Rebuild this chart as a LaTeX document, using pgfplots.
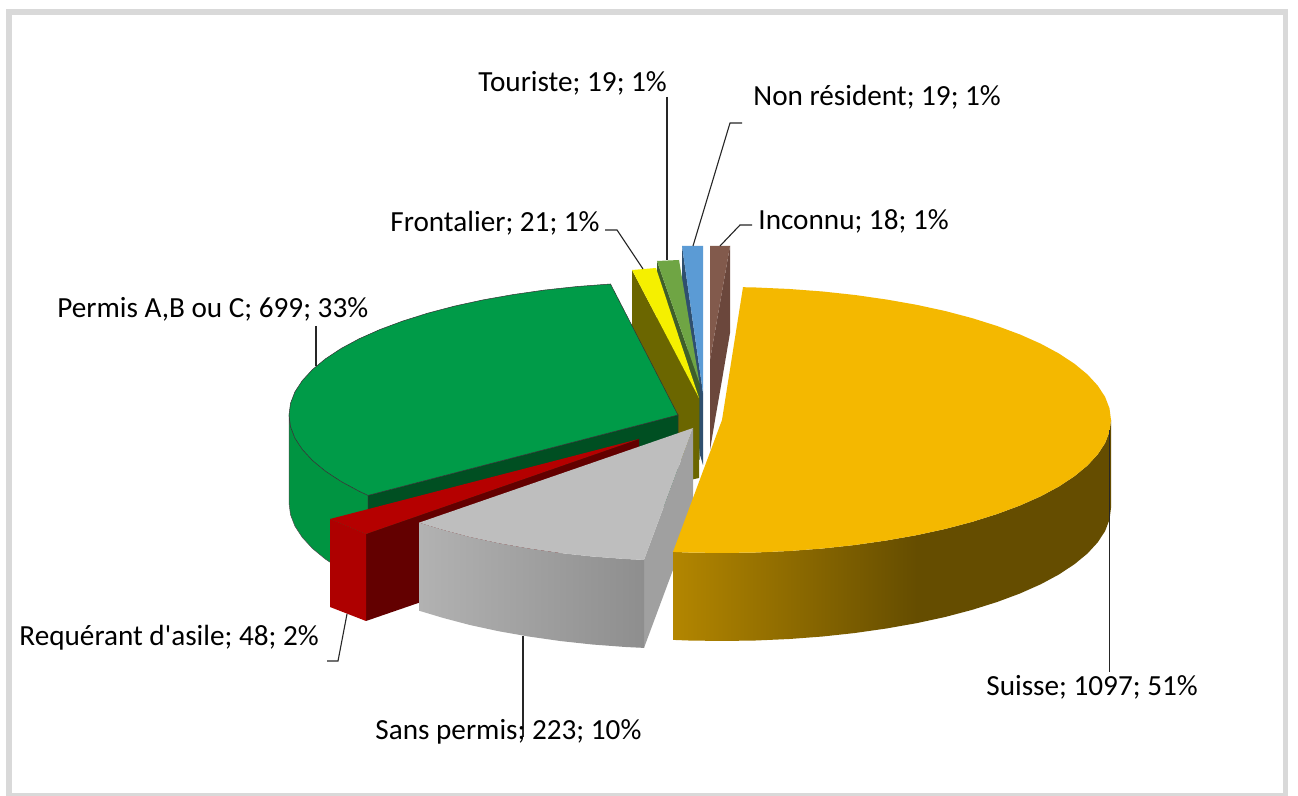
\documentclass[border=0pt]{standalone}
\usepackage{fontspec}
\setmainfont{Carlito}
\newfontfamily\labfont{Carlito}
\usepackage{pgfplots}
\pgfplotsset{compat=1.18}

\definecolor{frame}{HTML}{D9D9D9}
\definecolor{suisse}{HTML}{F4B800}
\definecolor{suisseL}{HTML}{B38600}
\definecolor{suisseD}{HTML}{654D00}
\definecolor{permis}{HTML}{009B48}
\definecolor{permisS}{HTML}{009441}
\definecolor{permisD}{HTML}{004F22}
\definecolor{req}{HTML}{B50000}
\definecolor{reqF}{HTML}{AE0000}
\definecolor{reqD}{HTML}{630000}
\definecolor{gris}{HTML}{BEBEBE}
\definecolor{grisS}{HTML}{A0A0A0}
\definecolor{grisL}{HTML}{B2B2B2}
\definecolor{grisD}{HTML}{8E8E8E}
\definecolor{front}{HTML}{F5F000}
\definecolor{frontD}{HTML}{6B6600}
\definecolor{tour}{HTML}{6FA544}
\definecolor{tourD}{HTML}{3F5F2B}
\definecolor{nonres}{HTML}{5B9BD5}
\definecolor{nonresD}{HTML}{2F4F6F}
\definecolor{inc}{HTML}{825A4C}
\definecolor{incD}{HTML}{6B473C}

\tikzset{lab/.style={font=\labfont\fontsize{14.6}{16}\selectfont, anchor=west, inner sep=0pt, text=black},
  leader/.style={draw=black!85, line width=0.55pt}}

\begin{document}
\begin{tikzpicture}
\begin{axis}[
    scale only axis, width=649pt, height=398pt,
    xmin=0, xmax=1298, ymin=0, ymax=796, y dir=reverse,
    hide axis,
]
% page extent, the hidden axis does not count for the bounding box
\addplot[draw=none] coordinates {(0,0)(1298,796)};
% frame
\addplot[fill=frame, draw=none] coordinates {(6,9)(1288,9)(1288,796)(6,796)} --cycle;
\addplot[fill=white, draw=none] coordinates {(12,15)(1283,15)(1283,793)(12,793)} --cycle;

% Non resident
\addplot[fill=nonresD, draw=none] coordinates {(682,246)(703,393)(703,465)(700,455)(682,300)} --cycle;
\addplot[fill=nonres, draw=none] coordinates {(682,246)(703,246)(703,393)} --cycle;
% Inconnu
\addplot[fill=incD, draw=none] coordinates {(730,246)(730,333)(722,380)(715,420)(710,450)(710,360)} --cycle;
\addplot[fill=inc, draw=none] coordinates {(710,246)(730,246)(710,360)} --cycle;
% Touriste
\addplot[fill=tourD, draw=none] coordinates {(657,261)(699.5,383)(699.5,460)(657,349)} --cycle;
\addplot[fill=tour, draw=none] coordinates {(657,261)(679,260)(699.5,383)} --cycle;
% Frontalier
\addplot[fill=frontD, draw=none] coordinates {(632,270)(699,398)(699,478)(690,480)(632,358)} --cycle;
\addplot[fill=front, draw=none] coordinates {(632,270)(656,268)(699,398)} --cycle;

% Permis
\addplot[fill=permisS, draw=black!70, line width=0.25pt] coordinates {
  (289,415)(290.5,426.6)(294.9,438.1)(302.3,449.4)(312.5,460.5)(325.5,471.2)(341.1,481.5)(359.3,491.3)(368,495.4)
  (368,583.4)(359.3,579.3)(341.1,569.5)(325.5,559.2)(312.5,548.5)(302.3,537.4)(294.9,526.1)(290.5,514.6)(289,503)} --cycle;
\addplot[fill=permisD, draw=black!80, line width=0.25pt] coordinates {(368,495.4)(678,415)(678,503)(368,583.4)} --cycle;
\addplot[fill=permis, draw=black!80, line width=0.25pt] coordinates {
  (678,415)(610.5,284)(577.3,286.5)(545,290)(513.6,294.5)(483.5,299.8)(454.9,306)(428,313.1)(402.9,321)(380,329.5)
  (359.3,338.7)(341.1,348.5)(325.5,358.8)(312.5,369.5)(302.3,380.6)(294.9,391.9)(290.5,403.4)(289,415)
  (290.5,426.6)(294.9,438.1)(302.3,449.4)(312.5,460.5)(325.5,471.2)(341.1,481.5)(359.3,491.3)(368,495.4)} --cycle;

% Requerant
\addplot[fill=reqD, draw=none] coordinates {(366,534)(639,439)(639,527)(366,621)} --cycle;
\addplot[fill=req, draw=none] coordinates {(330,519)(639,439)(366,534)} --cycle;
\addplot[fill=reqF, draw=none] coordinates {(330,519)(366,534)(366,621)(330,607)} --cycle;

% Sans permis
\addplot[fill=grisS, draw=none] coordinates {(644,559.9)(693,428)(693,516)(644,647.9)} --cycle;
\addplot[left color=grisL, right color=grisD, draw=none] coordinates {
  (419,522.7)(443,529.9)(469.9,537)(498.5,543.2)(528.6,548.5)(560,553)(592.3,556.5)(625.5,559)(644,559.9)
  (644,647.9)(625.5,647)(592.3,644.5)(560,641)(528.6,636.5)(498.5,631.2)(469.9,625)(443,617.9)(419,610.7)} --cycle;
\addplot[fill=gris, draw=none] coordinates {
  (693,428)(644,559.9)(625.5,559)(592.3,556.5)(560,553)(528.6,548.5)(498.5,543.2)(469.9,537)(443,529.9)(419,522.7)} --cycle;

% Suisse
\addplot[fill=suisseD, draw=none] coordinates {
  (1111,420)(1109.5,431.6)(1105.1,443.1)(1097.7,454.4)(1087.5,465.5)(1074.5,476.2)(1058.9,486.5)(1040.7,496.3)
  (1020,505.5)(997.1,514)(972,521.9)(945.1,529)(916.5,535.2)
  (916.5,623.2)(945.1,617)(972,609.9)(997.1,602)(1020,593.5)(1040.7,584.3)(1058.9,574.5)(1074.5,564.2)
  (1087.5,553.5)(1097.7,542.4)(1105.1,531.1)(1109.5,519.6)(1111,508)} --cycle;
\addplot[left color=suisseL, right color=suisseD, draw=none] coordinates {
  (673,551.9)(688.1,552.5)(722,553)(755.9,552.5)(789.5,551)(822.7,548.5)(855,545)(886.4,540.5)(917,535.1)
  (917,623.1)(886.4,628.5)(855,633)(822.7,636.5)(789.5,639)(755.9,640.5)(722,641)(688.1,640.5)(673,639.9)} --cycle;
\addplot[fill=suisse, draw=none] coordinates {
  (722,420)(743,287.2)(755.9,287.5)(789.5,289)(822.7,291.5)(855,295)(886.4,299.5)(916.5,304.8)(945.1,311)(972,318.1)
  (997.1,326)(1020,334.5)(1040.7,343.7)(1058.9,353.5)(1074.5,363.8)(1087.5,374.5)(1097.7,385.6)(1105.1,396.9)
  (1109.5,408.4)(1111,420)(1109.5,431.6)(1105.1,443.1)(1097.7,454.4)(1087.5,465.5)(1074.5,476.2)(1058.9,486.5)
  (1040.7,496.3)(1020,505.5)(997.1,514)(972,521.9)(945.1,529)(916.5,535.2)(886.4,540.5)(855,545)(822.7,548.5)
  (789.5,551)(755.9,552.5)(722,553)(688.1,552.5)(673,551.9)} --cycle;

% leader lines
\addplot[leader] coordinates {(316,326)(316,366)};
\addplot[leader] coordinates {(667,97)(667,260)};
\addplot[leader] coordinates {(742,123)(730,123)(693,246)};
\addplot[leader] coordinates {(752,225)(740,225)(720,246)};
\addplot[leader] coordinates {(605,230)(617,230)(643,269)};
\addplot[leader] coordinates {(1109.5,430)(1109.5,672)};
\addplot[leader] coordinates {(523,636)(523,737)};
\addplot[leader] coordinates {(347,614)(338,661)(327,661)};

% labels
\node[lab] at (axis cs:57,309) {Permis A,B ou C; 699; 33\%};
\node[lab] at (axis cs:478,83) {Touriste; 19; 1\%};
\node[lab] at (axis cs:753,97) {Non résident; 19; 1\%};
\node[lab] at (axis cs:758,221) {Inconnu; 18; 1\%};
\node[lab] at (axis cs:390,223) {Frontalier; 21; 1\%};
\node[lab] at (axis cs:986,687) {Suisse; 1097; 51\%};
\node[lab] at (axis cs:375,732) {Sans permis; 223; 10\%};
\node[lab] at (axis cs:19,638) {Requérant d'asile; 48; 2\%};
\end{axis}
\end{tikzpicture}
\end{document}
